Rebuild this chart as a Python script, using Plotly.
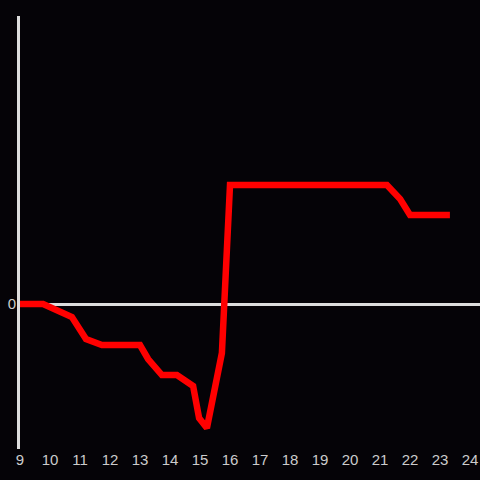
import plotly.graph_objects as go

hours = [9.0, 9.77, 10.73, 11.2, 11.73, 13.0, 13.27, 13.73, 14.23, 14.77, 14.97, 15.23, 15.73, 16.0, 21.23, 21.67, 22.0, 23.33]
values = [0, 0, -1.3, -3.5, -4.1, -4.1, -5.5, -7.1, -7.1, -8.2, -11.4, -12.4, -4.9, 11.9, 11.9, 10.5, 8.9, 8.9]
x_ticks = list(range(9, 25))

fig = go.Figure()
fig.add_trace(go.Scatter(x=hours, y=values, mode="lines",
                         line=dict(color="#ff0000", width=6.5), hoverinfo="skip"))

fig.update_layout(
    width=480, height=480,
    margin=dict(l=20, r=0, t=16, b=31),
    paper_bgcolor="#050307", plot_bgcolor="#050307",
    showlegend=False,
    font=dict(family="Liberation Sans, Arial, sans-serif", size=15, color="#cccccc"),
    xaxis=dict(range=[9, 24.333], tickvals=x_ticks, ticktext=[str(t) for t in x_ticks],
               showgrid=False, zeroline=False, showline=False, ticks=""),
    yaxis=dict(range=[-14.5, 28.8], tickvals=[0], ticktext=["0"],
               showgrid=False, zeroline=True, zerolinecolor="#dddddd", zerolinewidth=3,
               showline=True, linecolor="#dddddd", linewidth=3, ticks="",
               ticklabelstandoff=-2),
)
fig.write_html("out.html", config={"displayModeBar": False},
               post_script="document.body.style.margin='0';document.body.style.background='#050307';")
